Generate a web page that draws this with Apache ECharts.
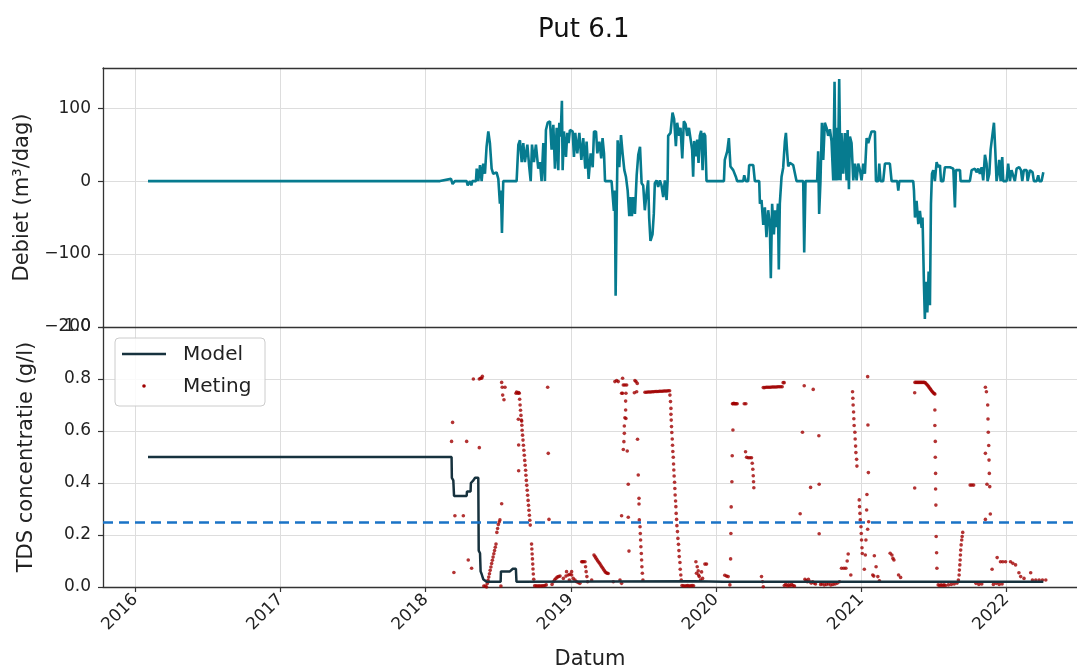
<!DOCTYPE html>
<html>
<head>
<meta charset="utf-8">
<script src="https://cdn.jsdelivr.net/npm/echarts@6/dist/echarts.min.js"></script>
<style>
html,body{margin:0;padding:0;background:#fff;}
#chart{width:1077px;height:667px;}
</style>
</head>
<body>
<div id="chart"></div>
<script>
// ---------- DATA ----------
const titleText = 'Put 6.1';
const yearTicks = [2016, 2017, 2018, 2019, 2020, 2021, 2022];
const xRange = [2015.777, 2022.486];
const threshold = 0.25;

// Debiet (m3/dag) [decimal year, value]
const debietData = [
[2016.087,0],[2018.098,0],[2018.174,3],[2018.185,-4],[2018.201,0],[2018.282,0],[2018.289,-6],[2018.305,0],[2018.314,-6],[2018.321,0],
[2018.346,0],[2018.351,17],[2018.362,0],[2018.374,22],[2018.385,0],[2018.396,24],[2018.408,10],[2018.419,47],[2018.431,68],[2018.442,52],
[2018.454,17],[2018.465,10],[2018.488,12],[2018.500,3],[2018.511,-31],[2018.518,-13],[2018.525,-71],[2018.534,0],[2018.626,0],[2018.638,50],
[2018.649,56],[2018.661,26],[2018.672,52],[2018.683,26],[2018.700,50],[2018.713,19],[2018.723,0],[2018.732,50],[2018.745,26],[2018.759,50],
[2018.775,17],[2018.787,26],[2018.798,0],[2018.810,52],[2018.821,0],[2018.828,70],[2018.840,80],[2018.856,82],[2018.867,43],[2018.879,77],
[2018.890,17],[2018.902,73],[2018.913,15],[2018.920,80],[2018.929,61],[2018.938,110],[2018.943,15],[2018.952,68],[2018.966,33],[2018.975,66],
[2018.984,52],[2018.993,70],[2019.012,68],[2019.021,33],[2019.030,66],[2019.044,38],[2019.058,66],[2019.072,29],[2019.085,59],[2019.099,17],
[2019.108,54],[2019.122,3],[2019.136,38],[2019.150,19],[2019.159,68],[2019.173,68],[2019.182,38],[2019.196,54],[2019.209,31],[2019.218,59],
[2019.228,38],[2019.235,0],[2019.280,0],[2019.287,-18],[2019.296,-41],[2019.303,-13],[2019.308,-157],[2019.315,-43],[2019.322,56],[2019.333,19],
[2019.345,63],[2019.356,38],[2019.368,15],[2019.379,6],[2019.391,-13],[2019.402,-48],[2019.411,-22],[2019.420,-48],[2019.430,-22],[2019.441,-45],
[2019.453,8],[2019.464,36],[2019.476,47],[2019.487,-3],[2019.498,-6],[2019.509,-40],[2019.521,-17],[2019.532,1],[2019.539,-50],[2019.548,-82],
[2019.562,-73],[2019.571,-45],[2019.578,-3],[2019.590,1],[2019.601,-8],[2019.613,1],[2019.624,-6],[2019.636,-22],[2019.647,1],[2019.659,-26],
[2019.666,0],[2019.670,62],[2019.686,66],[2019.700,94],[2019.711,85],[2019.723,48],[2019.732,80],[2019.746,62],[2019.755,73],[2019.767,31],
[2019.778,82],[2019.790,78],[2019.801,62],[2019.813,73],[2019.824,71],[2019.835,43],[2019.842,6],[2019.849,55],[2019.861,34],[2019.870,57],
[2019.879,25],[2019.888,62],[2019.897,69],[2019.907,15],[2019.916,66],[2019.925,62],[2019.934,0],[2020.054,0],[2020.060,29],[2020.077,41],
[2020.088,59],[2020.099,20],[2020.118,15],[2020.136,6],[2020.145,0],[2020.187,0],[2020.194,8],[2020.205,0],[2020.221,0],[2020.228,22],
[2020.256,22],[2020.267,0],[2020.297,0],[2020.302,-31],[2020.313,-26],[2020.325,-60],[2020.336,-36],[2020.347,-77],[2020.359,-40],[2020.370,-59],
[2020.377,-133],[2020.386,-31],[2020.398,-73],[2020.407,-40],[2020.416,-63],[2020.426,-31],[2020.432,-121],[2020.439,-31],[2020.451,6],[2020.462,18],
[2020.474,55],[2020.481,66],[2020.490,38],[2020.497,20],[2020.508,25],[2020.531,22],[2020.543,20],[2020.554,0],[2020.600,0],[2020.607,-98],
[2020.616,0],[2020.696,0],[2020.703,41],[2020.710,-45],[2020.719,0],[2020.729,80],[2020.738,29],[2020.749,80],[2020.761,73],[2020.772,62],
[2020.784,71],[2020.795,55],[2020.807,1],[2020.816,136],[2020.823,1],[2020.830,73],[2020.839,1],[2020.848,140],[2020.857,1],[2020.864,66],
[2020.876,10],[2020.887,66],[2020.899,1],[2020.906,70],[2020.915,-11],[2020.922,61],[2020.933,52],[2020.945,1],[2020.956,24],[2020.968,1],
[2020.979,24],[2020.991,15],[2021.002,1],[2021.014,24],[2021.025,10],[2021.037,59],[2021.048,52],[2021.060,61],[2021.071,68],[2021.083,70],
[2021.094,68],[2021.101,0],[2021.117,0],[2021.124,24],[2021.133,0],[2021.151,0],[2021.163,24],[2021.197,24],[2021.209,0],[2021.248,0],
[2021.255,-13],[2021.262,0],[2021.358,0],[2021.363,-13],[2021.370,-50],[2021.381,-27],[2021.393,-59],[2021.404,-41],[2021.416,-64],[2021.422,-50],
[2021.432,-143],[2021.438,-189],[2021.445,-138],[2021.455,-180],[2021.464,-124],[2021.473,-170],[2021.480,-31],[2021.487,10],[2021.496,15],[2021.507,0],
[2021.519,26],[2021.530,19],[2021.542,22],[2021.549,0],[2021.565,0],[2021.576,19],[2021.611,19],[2021.634,17],[2021.645,-36],[2021.652,15],
[2021.680,15],[2021.684,0],[2021.748,0],[2021.760,15],[2021.783,17],[2021.794,12],[2021.806,17],[2021.817,10],[2021.829,19],[2021.840,1],
[2021.852,36],[2021.863,24],[2021.870,0],[2021.882,10],[2021.891,43],[2021.902,61],[2021.914,80],[2021.923,43],[2021.932,0],[2021.944,15],
[2021.950,29],[2021.960,0],[2021.971,33],[2021.978,0],[2022.001,0],[2022.012,24],[2022.024,0],[2022.035,15],[2022.047,15],[2022.058,0],
[2022.070,17],[2022.088,19],[2022.100,15],[2022.109,0],[2022.120,15],[2022.139,15],[2022.146,0],[2022.162,15],[2022.180,12],[2022.189,0],
[2022.208,0],[2022.219,8],[2022.226,0],[2022.242,0],[2022.254,12]
];

// Model TDS (g/l)
const modelData = [
[2016.087,0.5],[2018.178,0.5],[2018.180,0.42],[2018.190,0.41],[2018.195,0.35],[2018.282,0.35],[2018.284,0.367],[2018.309,0.367],
[2018.311,0.40],[2018.328,0.41],[2018.340,0.42],[2018.362,0.42],[2018.365,0.14],[2018.374,0.13],[2018.378,0.06],[2018.385,0.05],
[2018.396,0.03],[2018.419,0.02],[2018.516,0.02],[2018.518,0.06],[2018.580,0.06],[2018.600,0.07],[2018.621,0.07],[2018.625,0.02],
[2019.85,0.022],[2020.05,0.02],[2022.254,0.02]
];

// Meting TDS (g/l)
const metingData = [
[2018.178,0.56],[2018.185,0.633],[2018.194,0.056],[2018.201,0.274],[2018.259,0.274],[2018.282,0.56],[2018.293,0.104],[2018.316,0.072],[2018.369,0.536],
[2018.328,0.80],[2018.369,0.80],[2018.378,0.803],[2018.385,0.803],[2018.390,0.81],
[2018.400,0.004],[2018.410,0.004],
[2018.419,0.0],[2018.424,0.013],[2018.429,0.026],[2018.434,0.038],[2018.439,0.051],[2018.444,0.064],[2018.449,0.077],[2018.454,0.09],
[2018.459,0.103],[2018.464,0.115],[2018.469,0.128],[2018.474,0.14],[2018.479,0.153],[2018.484,0.165],
[2018.490,0.21],[2018.495,0.225],[2018.500,0.24],[2018.506,0.25],[2018.511,0.258],
[2018.523,0.32],[2018.518,0.004],
[2018.523,0.787],[2018.527,0.768],[2018.546,0.768],[2018.530,0.738],[2018.539,0.72],
[2018.622,0.745],[2018.626,0.75],[2018.635,0.745],[2018.640,0.748],
[2018.638,0.645],[2018.661,0.638],[2018.640,0.546],[2018.640,0.447],
[2018.644,0.745],[2018.647,0.722],[2018.650,0.70],[2018.653,0.68],[2018.656,0.66],[2018.659,0.642],[2018.662,0.622],[2018.664,0.603],
[2018.667,0.584],[2018.670,0.565],[2018.673,0.545],[2018.676,0.526],[2018.679,0.507],[2018.682,0.487],[2018.685,0.468],[2018.688,0.449],
[2018.690,0.43],[2018.693,0.41],[2018.696,0.391],[2018.699,0.372],[2018.702,0.353],[2018.705,0.333],[2018.708,0.314],[2018.711,0.295],
[2018.714,0.276],[2018.717,0.257],[2018.720,0.238],
[2018.729,0.165],[2018.731,0.146],[2018.733,0.127],[2018.735,0.108],[2018.737,0.088],[2018.739,0.069],[2018.741,0.05],[2018.744,0.03],
[2018.750,0.005],[2018.760,0.005],[2018.770,0.004],[2018.780,0.005],[2018.790,0.004],[2018.800,0.005],[2018.810,0.005],[2018.820,0.006],[2018.830,0.008],
[2018.840,0.768],[2018.844,0.514],[2018.849,0.26],
[2018.870,0.01],[2018.879,0.02],[2018.888,0.028],[2018.897,0.033],[2018.906,0.038],[2018.915,0.04],[2018.925,0.042],
[2018.948,0.033],[2018.966,0.042],[2018.982,0.046],[2018.993,0.049],[2019.005,0.046],[2019.016,0.033],[2019.028,0.027],[2019.039,0.02],
[2019.051,0.017],[2019.062,0.014],[2018.970,0.059],[2019.005,0.059],[2018.989,0.027],
[2019.074,0.097],[2019.080,0.097],[2019.086,0.097],[2019.097,0.097],[2019.101,0.078],[2019.105,0.059],[2019.110,0.04],[2019.115,0.02],
[2019.143,0.027],
[2019.159,0.123],[2019.166,0.117],[2019.173,0.111],[2019.180,0.105],[2019.187,0.099],[2019.194,0.093],[2019.201,0.088],[2019.208,0.082],
[2019.215,0.076],[2019.222,0.07],[2019.229,0.064],[2019.236,0.058],[2019.243,0.055],[2019.250,0.053],[2019.257,0.052],
[2019.292,0.02],[2019.338,0.027],[2019.349,0.014],
[2019.303,0.79],[2019.315,0.794],[2019.326,0.79],[2019.356,0.803],[2019.361,0.777],[2019.372,0.777],[2019.384,0.777],
[2019.349,0.745],[2019.356,0.745],[2019.379,0.745],
[2019.377,0.715],[2019.377,0.681],[2019.372,0.651],[2019.379,0.648],[2019.368,0.619],[2019.368,0.591],[2019.365,0.559],[2019.361,0.529],[2019.388,0.523],
[2019.395,0.395],[2019.349,0.274],[2019.395,0.268],[2019.400,0.138],
[2019.441,0.794],[2019.448,0.79],[2019.457,0.783],[2019.437,0.747],[2019.453,0.751],
[2019.459,0.568],[2019.464,0.431],[2019.469,0.341],[2019.469,0.319],
[2019.471,0.258],[2019.476,0.232],[2019.478,0.206],[2019.480,0.181],[2019.482,0.155],[2019.485,0.129],[2019.487,0.104],[2019.489,0.078],[2019.492,0.053],[2019.496,0.027],
[2019.510,0.749],[2019.520,0.749],[2019.530,0.750],[2019.540,0.750],[2019.550,0.750],[2019.560,0.751],[2019.570,0.751],[2019.580,0.752],[2019.590,0.752],
[2019.600,0.752],[2019.610,0.753],[2019.620,0.753],[2019.630,0.753],[2019.640,0.754],[2019.650,0.754],[2019.660,0.754],[2019.670,0.755],[2019.680,0.755],
[2019.682,0.738],[2019.686,0.713],[2019.689,0.687],[2019.689,0.664],[2019.691,0.642],[2019.693,0.617],[2019.695,0.594],[2019.698,0.569],[2019.700,0.545],
[2019.702,0.521],[2019.705,0.499],[2019.707,0.473],[2019.709,0.45],[2019.711,0.427],[2019.714,0.403],[2019.716,0.379],[2019.718,0.354],[2019.721,0.331],
[2019.723,0.309],[2019.725,0.283],[2019.728,0.26],[2019.730,0.236],[2019.734,0.213],[2019.737,0.187],[2019.741,0.164],[2019.744,0.14],[2019.746,0.117],
[2019.751,0.094],[2019.753,0.068],[2019.757,0.046],[2019.760,0.027],
[2019.765,0.006],[2019.775,0.005],[2019.785,0.004],[2019.795,0.005],[2019.805,0.006],[2019.815,0.004],[2019.825,0.005],[2019.835,0.006],[2019.845,0.005],
[2019.861,0.097],[2019.870,0.078],[2019.877,0.062],[2019.865,0.053],[2019.884,0.04],[2019.893,0.027],[2019.900,0.058],[2019.907,0.033],[2019.923,0.088],[2019.934,0.088],[2019.879,0.046],
[2020.060,0.045],[2020.072,0.042],[2020.083,0.04],[2020.095,0.008],
[2020.100,0.108],[2020.102,0.206],[2020.104,0.308],[2020.109,0.405],[2020.111,0.505],[2020.116,0.604],
[2020.113,0.705],[2020.118,0.705],[2020.122,0.707],[2020.127,0.705],[2020.132,0.705],[2020.138,0.705],[2020.145,0.705],
[2020.194,0.705],[2020.205,0.705],
[2020.203,0.52],[2020.210,0.499],[2020.221,0.497],[2020.233,0.497],[2020.244,0.497],
[2020.249,0.476],[2020.253,0.453],[2020.256,0.428],[2020.258,0.405],[2020.260,0.382],
[2020.313,0.04],[2020.320,0.02],[2020.325,0.001],
[2020.325,0.767],[2020.335,0.767],[2020.345,0.768],[2020.355,0.768],[2020.365,0.768],[2020.375,0.768],[2020.385,0.769],[2020.395,0.769],
[2020.405,0.769],[2020.415,0.769],[2020.425,0.77],[2020.435,0.77],[2020.445,0.77],[2020.455,0.77],[2020.462,0.786],[2020.469,0.786],
[2020.607,0.774],[2020.669,0.76],[2020.595,0.595],[2020.708,0.582],[2020.651,0.383],[2020.710,0.395],[2020.579,0.282],[2020.710,0.205],
[2020.47,0.006],[2020.48,0.01],[2020.49,0.004],[2020.50,0.008],[2020.51,0.005],[2020.52,0.01],[2020.53,0.006],[2020.54,0.004],
[2020.612,0.03],[2020.62,0.025],[2020.628,0.02],[2020.636,0.03],[2020.645,0.02],[2020.655,0.015],[2020.665,0.02],[2020.675,0.015],[2020.685,0.012],
[2020.72,0.01],[2020.73,0.012],[2020.745,0.008],[2020.76,0.01],[2020.775,0.012],[2020.79,0.008],[2020.805,0.01],[2020.82,0.012],[2020.835,0.015],[2020.85,0.02],
[2020.864,0.072],[2020.880,0.072],[2020.894,0.072],[2020.910,0.127],[2020.903,0.1],[2020.928,0.046],
[2020.940,0.751],[2020.942,0.726],[2020.944,0.70],[2020.947,0.673],[2020.949,0.647],[2020.951,0.621],[2020.956,0.595],[2020.958,0.569],
[2020.961,0.542],[2020.963,0.517],[2020.968,0.491],[2020.970,0.465],
[2020.986,0.335],[2020.988,0.309],[2020.991,0.283],[2020.993,0.258],[2020.998,0.232],[2021.000,0.206],[2021.002,0.181],[2021.005,0.151],[2021.007,0.129],
[2021.044,0.809],[2021.046,0.623],[2021.049,0.44],[2021.039,0.356],[2021.037,0.296],[2021.051,0.251],[2021.032,0.181],[2021.028,0.123],[2021.021,0.068],[2021.044,0.222],
[2021.079,0.046],[2021.090,0.12],[2021.102,0.078],[2021.086,0.042],[2021.114,0.04],[2021.125,0.024],
[2021.199,0.13],[2021.211,0.123],[2021.218,0.11],[2021.225,0.104],[2021.257,0.046],[2021.271,0.037],
[2021.368,0.747],[2021.368,0.381],
[2021.370,0.787],[2021.378,0.787],[2021.386,0.787],[2021.394,0.787],[2021.402,0.787],[2021.410,0.787],[2021.418,0.787],[2021.426,0.787],[2021.434,0.787],[2021.442,0.785],
[2021.449,0.781],[2021.455,0.777],[2021.461,0.773],[2021.466,0.769],[2021.472,0.764],[2021.478,0.76],[2021.484,0.755],[2021.490,0.751],[2021.496,0.747],[2021.502,0.744],[2021.507,0.742],
[2021.507,0.681],[2021.507,0.621],[2021.510,0.56],[2021.510,0.499],[2021.512,0.437],[2021.512,0.377],[2021.514,0.315],[2021.516,0.194],[2021.519,0.132],[2021.521,0.072],
[2021.53,0.008],[2021.54,0.006],[2021.55,0.008],[2021.56,0.006],[2021.57,0.008],[2021.58,0.006],[2021.60,0.008],[2021.62,0.01],[2021.64,0.012],[2021.66,0.015],
[2021.669,0.027],[2021.674,0.046],[2021.676,0.065],[2021.679,0.085],[2021.681,0.104],[2021.683,0.123],[2021.685,0.142],[2021.688,0.162],[2021.692,0.181],[2021.695,0.194],[2021.699,0.21],
[2021.750,0.392],[2021.762,0.392],[2021.774,0.392],
[2021.855,0.768],[2021.862,0.751],[2021.871,0.70],[2021.873,0.646],[2021.875,0.595],[2021.878,0.544],[2021.855,0.514],[2021.880,0.488],
[2021.882,0.437],[2021.866,0.395],[2021.885,0.386],[2021.889,0.281],[2021.855,0.26],
[2021.79,0.014],[2021.81,0.01],[2021.83,0.012],[2021.91,0.01],[2021.93,0.014],[2021.95,0.01],[2021.97,0.012],
[2021.901,0.068],[2021.936,0.113],[2021.959,0.097],[2021.975,0.097],[2021.994,0.097],[2022.028,0.097],[2022.044,0.091],[2022.063,0.085],
[2022.086,0.055],[2022.098,0.04],[2022.121,0.033],[2022.167,0.055],[2022.179,0.027],[2022.202,0.027],[2022.225,0.027],[2022.248,0.027],[2022.271,0.027]
];

// ---------- STYLE ----------
const FONT = 'DejaVu Sans';
const teal = '#067b8f';
const modelColor = '#17323e';
const metingColor = '#a00000';
const dashColor = '#1a73c6';
const gridLineColor = '#dddddd';
const spineColor = '#333333';
const textColor = '#222222';
const TICK_FS = 17, LABEL_FS = 21;

const chart = echarts.init(document.getElementById('chart'), null, {renderer: 'canvas'});

const minus = v => String(v).replace('-', '\u2212');
const spine = {show: true, onZero: false, lineStyle: {color: spineColor, width: 1.3}};

const option = {
  backgroundColor: '#ffffff',
  animation: false,
  title: {
    text: titleText,
    left: 533, top: 12,
    textStyle: {fontFamily: FONT, fontSize: 26, fontWeight: 'normal', color: '#111'}
  },
  grid: [
    {left: 103, right: 0, top: 68, height: 259, show: false, containLabel: false, outerBoundsMode: 'none'},
    {left: 103, right: 0, top: 327, height: 260, show: false, containLabel: false, outerBoundsMode: 'none'}
  ],
  xAxis: [
    { // top panel, top spine + vertical grid
      type: 'value', gridIndex: 0, position: 'top', min: xRange[0], max: xRange[1],
      axisLine: spine,
      axisTick: {show: false, customValues: yearTicks},
      axisLabel: {show: false, customValues: yearTicks},
      splitLine: {show: true, lineStyle: {color: gridLineColor, width: 1}}
    },
    { // bottom panel, dates
      type: 'value', gridIndex: 1, position: 'bottom', min: xRange[0], max: xRange[1],
      name: 'Datum', nameLocation: 'middle', nameGap: 62,
      nameTextStyle: {fontFamily: FONT, fontSize: LABEL_FS, color: textColor},
      axisLine: spine,
      axisTick: {show: true, length: 5, customValues: yearTicks, lineStyle: {color: spineColor, width: 1.2}},
      axisLabel: {show: true, customValues: yearTicks, rotate: 45, margin: 10,
        fontFamily: FONT, fontSize: TICK_FS, color: textColor, formatter: v => String(Math.round(v))},
      splitLine: {show: true, lineStyle: {color: gridLineColor, width: 1}}
    },
    { // top panel bottom spine (shared border)
      type: 'value', gridIndex: 0, position: 'bottom', min: xRange[0], max: xRange[1],
      axisLine: spine, axisTick: {show: false}, axisLabel: {show: false}, splitLine: {show: false}
    }
  ],
  yAxis: [
    {
      type: 'value', gridIndex: 0, min: -200, max: 155, interval: 100,
      name: 'Debiet (m\u00B3/dag)', nameLocation: 'middle', nameGap: 66,
      nameTextStyle: {fontFamily: FONT, fontSize: LABEL_FS, color: textColor},
      axisLine: spine,
      axisTick: {show: true, length: 5, lineStyle: {color: spineColor, width: 1.2}},
      axisLabel: {fontFamily: FONT, fontSize: TICK_FS, color: textColor, margin: 12, showMaxLabel: false, formatter: minus},
      splitLine: {show: true, lineStyle: {color: gridLineColor, width: 1}}
    },
    {
      type: 'value', gridIndex: 1, min: 0, max: 1, interval: 0.2,
      name: 'TDS concentratie (g/l)', nameLocation: 'middle', nameGap: 66,
      nameTextStyle: {fontFamily: FONT, fontSize: LABEL_FS, color: textColor},
      axisLine: spine,
      axisTick: {show: true, length: 5, lineStyle: {color: spineColor, width: 1.2}},
      axisLabel: {fontFamily: FONT, fontSize: TICK_FS, color: textColor, margin: 12, formatter: v => v.toFixed(1)},
      splitLine: {show: true, lineStyle: {color: gridLineColor, width: 1}}
    }
  ],
  series: [
    {
      name: 'Debiet', type: 'line', xAxisIndex: 0, yAxisIndex: 0,
      data: debietData, showSymbol: false, symbol: 'none',
      lineStyle: {color: teal, width: 2.6}, clip: true, z: 3
    },
    {
      name: 'Meting', type: 'scatter', xAxisIndex: 1, yAxisIndex: 1,
      data: metingData, symbol: 'circle', symbolSize: 3.6,
      itemStyle: {color: metingColor}, clip: true, z: 3
    },
    {
      name: 'Model', type: 'line', xAxisIndex: 1, yAxisIndex: 1,
      data: modelData, showSymbol: false, symbol: 'none',
      lineStyle: {color: modelColor, width: 2.5}, clip: true, z: 4,
      markLine: {
        silent: true, symbol: 'none', label: {show: false},
        lineStyle: {color: dashColor, width: 2.6, type: [10, 6]},
        data: [{yAxis: threshold}]
      }
    }
  ],
  graphic: [
    {type: 'rect', shape: {x: 115, y: 338, width: 150, height: 68, r: 4},
     style: {fill: 'rgba(255,255,255,0.85)', stroke: '#cccccc', lineWidth: 1}, z: 100},
    {type: 'line', shape: {x1: 122, y1: 354, x2: 166, y2: 354},
     style: {stroke: modelColor, lineWidth: 2.5}, z: 101},
    {type: 'text', x: 183, y: 355, style: {text: 'Model', fontFamily: FONT, fontSize: 20, fill: textColor, verticalAlign: 'middle'}, z: 101},
    {type: 'circle', shape: {cx: 144, cy: 386, r: 1.8}, style: {fill: metingColor}, z: 101},
    {type: 'text', x: 183, y: 387, style: {text: 'Meting', fontFamily: FONT, fontSize: 20, fill: textColor, verticalAlign: 'middle'}, z: 101}
  ]
};
chart.setOption(option);
</script>
</body>
</html>
